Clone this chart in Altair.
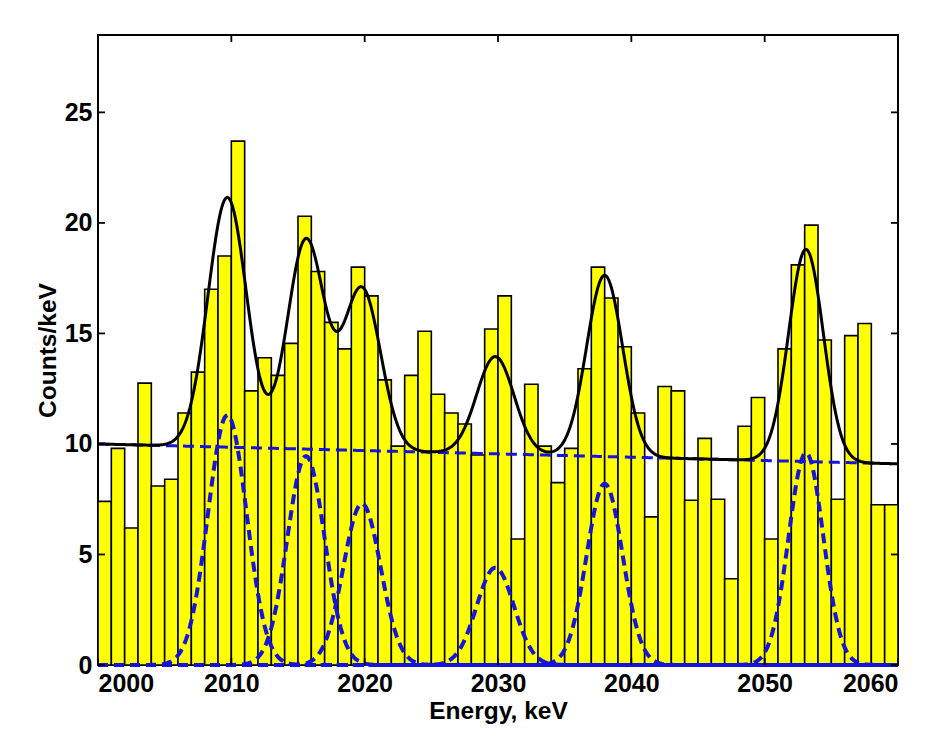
import numpy as np
import pandas as pd
import altair as alt

# ---- histogram (counts per 1-keV bin, bins start at 2000) ----
bin_start = list(range(2000, 2060))
counts = [
    7.4, 9.8, 6.2, 12.75, 8.1, 8.4, 11.4, 13.25, 17.0, 18.5,
    23.7, 12.4, 13.9, 13.1, 14.55, 20.3, 17.8, 15.5, 14.3, 18.0,
    16.7, 12.9, 9.9, 13.1, 15.1, 12.25, 11.4, 10.9, 9.5, 15.2,
    16.7, 5.7, 12.7, 9.9, 8.25, 9.8, 13.4, 18.0, 16.6, 14.4,
    11.4, 6.7, 12.6, 12.4, 7.45, 10.25, 7.5, 3.9, 10.8, 12.1,
    5.7, 14.3, 18.1, 19.9, 14.7, 7.5, 14.9, 15.45, 7.25, 7.25,
]

# ---- fit parameters ----
peak_centers = [2009.7, 2015.6, 2019.8, 2029.8, 2038.0, 2053.1]
peak_amplitudes = [11.3, 9.45, 7.3, 4.4, 8.2, 9.6]
peak_sigmas = [1.45, 1.4, 1.4, 1.4, 1.35, 1.3]
background_at_2000 = [10.0]
background_slope = [-0.015]

x_ticks = [2000, 2010, 2020, 2030, 2040, 2050, 2060]
y_ticks = [0, 5, 10, 15, 20, 25]

bars = pd.DataFrame({"x": bin_start, "x2": [b + 1 for b in bin_start], "y": counts})

xs = np.linspace(2000, 2060, 601)
bg = background_at_2000[0] + background_slope[0] * (xs - 2000)
total = bg.copy()
gauss_rows = []
for i, (c, a, s) in enumerate(zip(peak_centers, peak_amplitudes, peak_sigmas)):
    g = a * np.exp(-((xs - c) ** 2) / (2 * s * s))
    total = total + g
    gauss_rows.append(pd.DataFrame({"x": xs, "y": g, "peak": f"p{i}"}))
gauss = pd.concat(gauss_rows)
bgdf = pd.DataFrame({"x": xs, "y": bg})
fit = pd.DataFrame({"x": xs, "y": total})

W, H = 800, 630
xscale = alt.Scale(domain=[2000, 2060], nice=False, zero=False)
yscale = alt.Scale(domain=[0, 28.5], nice=False)

FONT = "Liberation Sans"

xaxis = alt.Axis(values=x_ticks, format="d", tickSize=0, domain=False, grid=False,
                 labelPadding=6, title="Energy, keV", titlePadding=3,
                 labelFontSize=25, titleFontSize=24.5)
yaxis = alt.Axis(values=y_ticks, tickSize=0, domain=False, grid=False,
                 labelPadding=6, title="Counts/keV", titlePadding=4,
                 labelFontSize=25, titleFontSize=24.5)

bar_layer = alt.Chart(bars).mark_bar(color="#FFFF00", stroke="black", strokeWidth=1.6).encode(
    x=alt.X("x:Q", scale=xscale, axis=xaxis),
    x2="x2:Q",
    y=alt.Y("y:Q", scale=yscale, axis=yaxis),
    y2=alt.datum(0),
)

blue = "#1414dc"
gauss_layer = alt.Chart(gauss).mark_line(color=blue, strokeWidth=4, strokeDash=[10, 6]).encode(
    x=alt.X("x:Q", scale=xscale), y=alt.Y("y:Q", scale=yscale), detail="peak:N"
)
bg_layer = alt.Chart(bgdf).mark_line(color=blue, strokeWidth=3, strokeDash=[11, 6]).encode(
    x=alt.X("x:Q", scale=xscale), y=alt.Y("y:Q", scale=yscale)
)
fit_layer = alt.Chart(fit).mark_line(color="black", strokeWidth=3).encode(
    x=alt.X("x:Q", scale=xscale), y=alt.Y("y:Q", scale=yscale)
)

xt = pd.DataFrame({"v": x_ticks})
yt = pd.DataFrame({"v": y_ticks})
xt_bottom = alt.Chart(xt).mark_rule(color="black", strokeWidth=1.8).encode(
    x=alt.X("v:Q", scale=xscale), y=alt.value(H), y2=alt.value(H - 7))
xt_top = alt.Chart(xt).mark_rule(color="black", strokeWidth=1.8).encode(
    x=alt.X("v:Q", scale=xscale), y=alt.value(0), y2=alt.value(7))
yt_left = alt.Chart(yt).mark_rule(color="black", strokeWidth=1.8).encode(
    y=alt.Y("v:Q", scale=yscale), x=alt.value(0), x2=alt.value(7))
yt_right = alt.Chart(yt).mark_rule(color="black", strokeWidth=1.8).encode(
    y=alt.Y("v:Q", scale=yscale), x=alt.value(W - 7), x2=alt.value(W))

chart = alt.layer(
    bar_layer, gauss_layer, bg_layer, fit_layer, xt_bottom, xt_top, yt_left, yt_right
).properties(
    width=W, height=H,
    autosize=alt.AutoSizeParams(type="none"),
    padding={"left": 90, "top": 27, "right": 30, "bottom": 62},
    background="white",
).configure_view(
    stroke="black", strokeWidth=2
).configure_axis(
    labelFont=FONT, titleFont=FONT, labelFontWeight="bold", titleFontWeight="bold",
    labelColor="black", titleColor="black",
)

chart.save("out.html", embed_options={"renderer": "svg", "actions": False})
